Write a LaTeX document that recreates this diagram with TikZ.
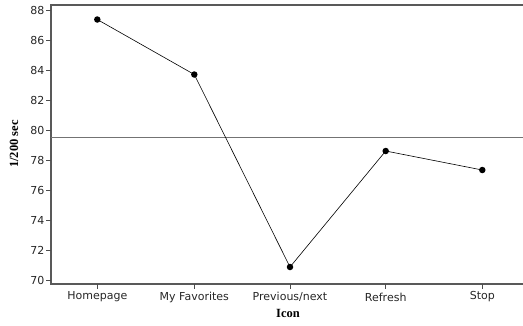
\documentclass[tikz,border=0pt]{standalone}
\usepackage{fontspec}
\setmainfont{Liberation Serif}
\newfontfamily\ticksfont{DejaVu Sans}
\begin{document}
\begin{tikzpicture}[x=1pt,y=-1pt,
  axisline/.style={draw=black!65,line width=1.2pt},
  refline/.style={draw=black!55,line width=0.9pt},
  tickline/.style={draw=black!70,line width=0.8pt},
  dot/.style={circle,fill=black,inner sep=0pt,minimum size=6.5pt},
  ticklab/.style={font=\ticksfont\fontsize{11}{13}\selectfont,text=black!85},
  axlab/.style={font=\bfseries\fontsize{12.5}{14}\selectfont}]
\useasboundingbox (0,0) rectangle (523,325);
% frame
\draw[axisline] (51,5) -- (523,5);
\draw[axisline] (51,4.4) -- (51,284) -- (523,284);
% reference line
\draw[refline] (51,137.5) -- (523,137.5);
% y ticks
\foreach \v in {70,72,...,88}{
  \pgfmathsetmacro{\yy}{10+(88-\v)*15}
  \draw[tickline] (46,\yy) -- (51,\yy);
  \node[ticklab,anchor=east,inner sep=0pt] (yl\v) at (44.5,\yy) {\v};
}
% x ticks
\foreach \xx/\lab/\n in {97.3/{Homepage}/a,194.3/{My Favorites}/b,290/{Previous/next}/c,385.7/{Refresh}/d,482.3/{Stop}/e}{
  \draw[tickline] (\xx,284) -- (\xx,289);
  \node[ticklab,anchor=center,inner sep=0pt] (xl\n) at (\xx,297) {\lab};
}
% axis labels
\node[axlab,rotate=90] (ylab) at (14,144) {1/200 sec};
\node[axlab] (xlab) at (288,313) {Icon};
% data
\node[dot] (p1) at (97.3,19.5) {};
\node[dot] (p2) at (194.3,74.5) {};
\node[dot] (p3) at (290,267) {};
\node[dot] (p4) at (385.7,151) {};
\node[dot] (p5) at (482.3,170) {};
\draw[line width=0.6pt] (p1.center) -- (p2.center) -- (p3.center) -- (p4.center) -- (p5.center);
\end{tikzpicture}
\end{document}
